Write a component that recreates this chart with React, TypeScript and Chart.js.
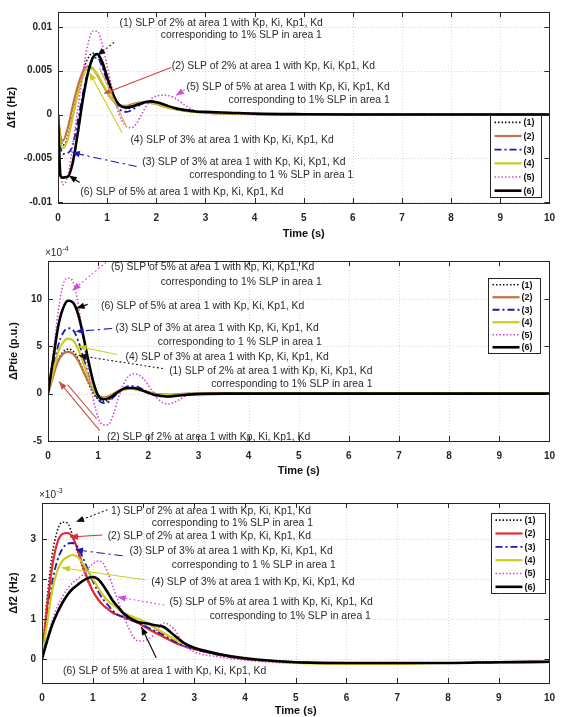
import { useEffect, useRef } from "react";
import { Chart, registerables } from "chart.js";

Chart.register(...registerables);

// Simulation time base (s)
const TIME = [0, 0.05, 0.1, 0.2, 0.3, 0.4, 0.5, 0.6, 0.7, 0.8, 0.9, 1.0, 1.1, 1.2, 1.3, 1.4, 1.5, 1.6, 1.7, 1.8, 1.9, 2.0, 2.1, 2.2, 2.4, 2.6, 2.8, 3.0, 3.5, 4, 5, 6, 7, 8, 9, 10];

const SERIES_LABELS = ["(1)", "(2)", "(3)", "(4)", "(5)", "(6)"];

// Δf1 responses, in units of 1e-3 Hz
const DF1_1 = [0, -2.5, -3.5, -2.5, 0.0, 2.5, 4.8, 6.3, 7.0, 6.8, 5.6, 4.0, 2.6, 1.5, 0.9, 0.7, 0.8, 1.0, 1.2, 1.35, 1.4, 1.3, 1.15, 0.95, 0.65, 0.45, 0.3, 0.25, 0.15, 0.05, 0.01, 0, 0, 0, 0, 0];
const DF1_2 = [0, -2.5, -3.0, -1.5, 1.0, 3.2, 4.8, 5.5, 5.3, 4.5, 3.5, 2.5, 1.7, 1.2, 1.0, 1.0, 1.15, 1.3, 1.4, 1.4, 1.3, 1.2, 1.0, 0.85, 0.6, 0.4, 0.3, 0.2, 0.1, 0.05, 0.01, 0, 0, 0, 0, 0];
const DF1_3 = [0, -3.5, -4.5, -4.4, -3.5, -0.8, 2.2, 4.7, 6.2, 6.5, 5.4, 3.8, 2.2, 1.0, 0.4, 0.3, 0.5, 0.9, 1.2, 1.4, 1.5, 1.4, 1.2, 1.0, 0.6, 0.4, 0.3, 0.2, 0.1, 0.05, 0.01, 0, 0, 0, 0, 0];
const DF1_4 = [0, -3.2, -3.8, -2.8, -0.3, 2.2, 4.2, 5.2, 5.2, 4.6, 3.6, 2.6, 1.8, 1.2, 0.9, 0.9, 1.0, 1.2, 1.35, 1.4, 1.35, 1.25, 1.1, 0.9, 0.6, 0.4, 0.3, 0.2, 0.1, 0.05, 0.01, 0, 0, 0, 0, 0];
const DF1_5 = [0, -6.0, -8.0, -7.0, -3.5, 0.5, 4.5, 7.8, 9.5, 9.5, 8.0, 5.5, 3.0, 0.8, -0.7, -1.4, -1.5, -1.0, 0.0, 1.0, 1.8, 2.1, 2.2, 2.2, 1.8, 1.0, 0.4, 0.2, 0.1, 0.05, 0.01, 0, 0, 0, 0, 0];
const DF1_6 = [0, -7.0, -7.2, -7.1, -5.5, -2.2, 1.5, 4.5, 6.4, 6.9, 6.0, 4.3, 2.6, 1.4, 0.9, 0.8, 0.9, 1.1, 1.3, 1.45, 1.5, 1.4, 1.25, 1.05, 0.7, 0.5, 0.35, 0.3, 0.2, 0.1, 0.03, 0, 0, 0, 0, 0];

// ΔPtie responses, in units of 1e-4 p.u.
const PTIE_1 = [0, 0.9, 1.8, 3.5, 4.4, 4.7, 4.5, 3.7, 2.5, 1.2, 0.1, -0.6, -0.8, -0.7, -0.3, 0.1, 0.4, 0.6, 0.6, 0.5, 0.3, 0.1, -0.05, -0.15, -0.2, -0.1, 0, 0, 0, 0, 0, 0, 0, 0, 0, 0];
const PTIE_2 = [0, 0.9, 1.8, 3.4, 4.2, 4.4, 4.2, 3.5, 2.4, 1.3, 0.4, -0.2, -0.4, -0.3, 0, 0.25, 0.45, 0.5, 0.5, 0.4, 0.3, 0.15, 0.05, -0.05, -0.1, -0.05, 0, 0, 0, 0, 0, 0, 0, 0, 0, 0];
const PTIE_3 = [0, 1.3, 2.5, 5.0, 6.4, 6.9, 6.7, 5.6, 3.9, 2.0, 0.4, -0.6, -1.0, -0.9, -0.4, 0.1, 0.5, 0.8, 0.8, 0.7, 0.4, 0.1, -0.1, -0.3, -0.3, -0.2, -0.1, 0, 0, 0, 0, 0, 0, 0, 0, 0];
const PTIE_4 = [0, 1.1, 2.2, 4.3, 5.4, 5.8, 5.6, 4.7, 3.3, 1.8, 0.5, -0.3, -0.5, -0.4, -0.1, 0.2, 0.4, 0.5, 0.5, 0.4, 0.3, 0.1, 0, -0.1, -0.15, -0.1, -0.05, 0, 0, 0, 0, 0, 0, 0, 0, 0];
const PTIE_5 = [0, 2.0, 4.0, 8.5, 11.5, 12.2, 11.8, 9.5, 6.0, 2.5, -0.5, -2.5, -3.3, -3.3, -2.2, -0.5, 0.9, 1.8, 2.1, 2.0, 1.6, 0.9, 0.1, -0.6, -1.1, -0.7, -0.1, 0.1, 0, 0, 0, 0, 0, 0, 0, 0];
const PTIE_6 = [0, 1.8, 3.5, 7.0, 9.0, 9.8, 9.6, 8.4, 6.2, 3.6, 1.3, -0.2, -0.6, -0.5, -0.2, 0.2, 0.5, 0.6, 0.6, 0.5, 0.3, 0.1, -0.1, -0.2, -0.3, -0.2, -0.1, -0.05, 0, 0, 0, 0, 0, 0, 0, 0];

// Δf2 responses, in units of 1e-3 Hz
const DF2_1 = [0, 0.8, 1.5, 2.6, 3.2, 3.42, 3.4, 3.1, 2.7, 2.3, 1.95, 1.7, 1.5, 1.35, 1.25, 1.15, 1.1, 1.05, 1.0, 0.95, 0.9, 0.82, 0.75, 0.68, 0.55, 0.42, 0.32, 0.25, 0.1, 0.0, -0.08, -0.1, -0.1, -0.1, -0.08, -0.07];
const DF2_2 = [0, 0.7, 1.3, 2.3, 2.9, 3.12, 3.15, 3.05, 2.75, 2.35, 2.0, 1.7, 1.5, 1.35, 1.25, 1.15, 1.1, 1.05, 1.0, 0.95, 0.9, 0.82, 0.75, 0.68, 0.55, 0.42, 0.32, 0.25, 0.1, 0.0, -0.08, -0.1, -0.1, -0.1, -0.08, -0.07];
const DF2_3 = [0, 0.5, 1.0, 1.9, 2.45, 2.75, 2.88, 2.9, 2.8, 2.55, 2.25, 1.95, 1.7, 1.5, 1.35, 1.2, 1.1, 1.05, 1.0, 0.95, 0.9, 0.85, 0.78, 0.72, 0.6, 0.45, 0.33, 0.25, 0.1, 0.0, -0.08, -0.1, -0.1, -0.1, -0.08, -0.07];
const DF2_4 = [0, 0.45, 0.9, 1.7, 2.2, 2.45, 2.55, 2.6, 2.55, 2.4, 2.2, 2.0, 1.8, 1.6, 1.45, 1.35, 1.25, 1.15, 1.1, 1.05, 1.0, 0.95, 0.88, 0.8, 0.65, 0.5, 0.38, 0.28, 0.12, 0.02, -0.1, -0.12, -0.12, -0.1, -0.1, -0.08];
const DF2_5 = [0, 0.25, 0.5, 0.95, 1.3, 1.55, 1.75, 1.9, 2.0, 2.1, 2.25, 2.38, 2.45, 2.4, 2.15, 1.8, 1.45, 1.1, 0.8, 0.55, 0.45, 0.45, 0.5, 0.6, 0.9, 0.75, 0.35, 0.18, 0.05, -0.03, -0.1, -0.1, -0.1, -0.1, -0.08, -0.07];
const DF2_6 = [0, 0.23, 0.45, 0.85, 1.15, 1.4, 1.6, 1.75, 1.85, 1.95, 2.02, 2.05, 2.0, 1.85, 1.65, 1.45, 1.3, 1.15, 1.05, 0.98, 0.92, 0.9, 0.88, 0.85, 0.8, 0.6, 0.4, 0.28, 0.12, 0.02, -0.08, -0.1, -0.1, -0.1, -0.08, -0.07];

// Axis ticks
const X_TICKS = [0, 1, 2, 3, 4, 5, 6, 7, 8, 9, 10];
const DF1_TICKS = [-10, -5, 0, 5, 10];
const DF1_TICK_LABELS = ["-0.01", "-0.005", "0", "0.005", "0.01"];
const PTIE_TICKS = [-5, 0, 5, 10];
const PTIE_TICK_LABELS = ["-5", "0", "5", "10"];
const DF2_TICKS = [0, 1, 2, 3];
const DF2_TICK_LABELS = ["0", "1", "2", "3"];

// Callout texts (x = right edge in s, y = line centre in axis units)
const DF1_NOTES = [
  { text: "(1) SLP of 2% at area 1 with Kp, Ki, Kp1, Kd", x: 5.39, y: 10.4 },
  { text: "corresponding to 1% SLP in area 1", x: 5.37, y: 9.03 },
  { text: "(2) SLP of 2% at area 1 with Kp, Ki, Kp1, Kd", x: 6.45, y: 5.49 },
  { text: "(5) SLP of 5% at area 1 with Kp, Ki, Kp1, Kd", x: 6.75, y: 3.09 },
  { text: "corresponding to 1% SLP in area 1", x: 6.75, y: 1.6 },
  { text: "(4) SLP of 3% at area 1 with Kp, Ki, Kp1, Kd", x: 5.61, y: -2.97 },
  { text: "(3) SLP of 3% at area 1 with Kp, Ki, Kp1, Kd", x: 5.85, y: -5.49 },
  { text: "corresponding to 1 % SLP in area 1", x: 6.01, y: -6.97 },
  { text: "(6) SLP of 5% at area 1 with Kp, Ki, Kp1, Kd", x: 4.59, y: -8.91 },
];
const PTIE_NOTES = [
  { text: "(5) SLP of 5% at area 1 with Kp, Ki, Kp1, Kd", x: 5.31, y: 13.4 },
  { text: "corresponding to 1% SLP in area 1", x: 5.46, y: 11.75 },
  { text: "(6) SLP of 5% at area 1 with Kp, Ki, Kp1, Kd", x: 5.11, y: 9.2 },
  { text: "(3) SLP of 3% at area 1 with Kp, Ki, Kp1, Kd", x: 5.4, y: 6.95 },
  { text: "corresponding to 1 % SLP in area 1", x: 5.46, y: 5.4 },
  { text: "(4) SLP of 3% at area 1 with Kp, Ki, Kp1, Kd", x: 5.6, y: 3.9 },
  { text: "(1) SLP of 2% at area 1 with Kp, Ki, Kp1, Kd", x: 6.47, y: 2.4 },
  { text: "corresponding to 1% SLP in area 1", x: 6.47, y: 0.95 },
  { text: "(2) SLP of 2% at area 1 with Kp, Ki, Kp1, Kd", x: 5.23, y: -4.55 },
];
const DF2_NOTES = [
  { text: "1) SLP of 2% at area 1 with Kp, Ki, Kp1, Kd", x: 5.3, y: 3.7 },
  { text: "corresponding to 1% SLP in area 1", x: 5.34, y: 3.4 },
  { text: "(2) SLP of 2% at area 1 with Kp, Ki, Kp1, Kd", x: 5.3, y: 3.08 },
  { text: "(3) SLP of 3% at area 1 with Kp, Ki, Kp1, Kd", x: 5.73, y: 2.7 },
  { text: "corresponding to 1 % SLP in area 1", x: 5.79, y: 2.35 },
  { text: "(4) SLP of 3% at area 1 with Kp, Ki, Kp1, Kd", x: 6.16, y: 1.93 },
  { text: "(5) SLP of 5% at area 1 with Kp, Ki, Kp1, Kd", x: 6.52, y: 1.43 },
  { text: "corresponding to 1% SLP in area 1", x: 6.48, y: 1.08 },
  { text: "(6) SLP of 5% at area 1 with Kp, Ki, Kp1, Kd", x: 4.42, y: -0.3 },
];

// Pointer arrows from the callouts to the curves
const DF1_POINTERS = [
  { series: 0, from: [1.14, 8.23], to: [0.8, 6.74] },
  { series: 1, from: [2.3, 5.37], to: [0.94, 2.4], color: "#d0453a" },
  { series: 4, from: [2.65, 3.09], to: [2.4, 2.17] },
  { series: 3, from: [1.3, -2.06], to: [0.64, 4.8] },
  { series: 3, from: [1.4, -1.49], to: [0.84, 5.37], color: "#d8a860", head: false },
  { series: 2, from: [1.6, -5.94], to: [0.28, -4.34] },
  { series: 5, from: [0.44, -7.77], to: [0.22, -6.97] },
];
const PTIE_POINTERS = [
  { series: 4, from: [1.16, 13.86], to: [0.49, 10.9] },
  { series: 5, from: [0.79, 9.42], to: [0.57, 9.0] },
  { series: 2, from: [1.28, 6.88], to: [0.55, 6.56] },
  { series: 3, from: [1.38, 4.13], to: [0.61, 4.97] },
  { series: 0, from: [2.29, 2.65], to: [0.61, 4.02] },
  { series: 1, from: [1.03, -3.9], to: [0.22, 1.27], color: "#c8504a" },
  { series: 1, from: [0.97, -2.65], to: [0.39, 0.95], color: "#c8504a", head: false },
];
const DF2_POINTERS = [
  { series: 0, from: [1.29, 3.73], to: [0.67, 3.43] },
  { series: 1, from: [1.19, 3.1], to: [0.55, 3.05] },
  { series: 2, from: [1.59, 2.58], to: [0.65, 2.73] },
  { series: 3, from: [2.02, 1.98], to: [0.39, 2.28] },
  { series: 4, from: [2.41, 1.35], to: [1.49, 1.55] },
  { series: 5, from: [2.25, 0.03], to: [1.96, 0.8] },
];

const FONT = "'Liberation Sans', Arial, Helvetica, sans-serif";
const INK = "#262626";

type Style = { color: string; width: number; dash: number[] };

const baseStyles = (second: string): Style[] => [
  { color: "#111111", width: 1.6, dash: [1.5, 2] },
  { color: second, width: 2.2, dash: [] },
  { color: "#1a1ab0", width: 1.8, dash: [7, 3, 2, 3] },
  { color: "#cccc1e", width: 2.2, dash: [] },
  { color: "#d24ad2", width: 1.6, dash: [1.5, 2] },
  { color: "#000000", width: 2.6, dash: [] },
];

// Canvases overlap slightly so each panel's x-axis title has room.
const PANELS = [
  {
    top: 0, height: 245, yWidth: 58, xHeight: 42, padTop: 12, padRight: 7, titleGap: 31,
    yMin: -10.1, yMax: 11.7, yTicks: DF1_TICKS, yTickLabels: DF1_TICK_LABELS,
    series: [DF1_1, DF1_2, DF1_3, DF1_4, DF1_5, DF1_6], styles: baseStyles("#c8704f"),
    yTitle: "Δf1 (Hz)", yTitleX: 12, exponent: "",
    notes: DF1_NOTES, pointers: DF1_POINTERS,
    legend: { right: 8, top: 103, w: 51, h: 82 },
  },
  {
    top: 245, height: 242, yWidth: 48, xHeight: 46, padTop: 16, padRight: 9, titleGap: 30,
    yMin: -5, yMax: 14, yTicks: PTIE_TICKS, yTickLabels: PTIE_TICK_LABELS,
    series: [PTIE_1, PTIE_2, PTIE_3, PTIE_4, PTIE_5, PTIE_6], styles: baseStyles("#c4703c"),
    yTitle: "ΔPtie (p.u.)", yTitleX: 14, exponent: "-4",
    notes: PTIE_NOTES, pointers: PTIE_POINTERS,
    legend: { right: 9, top: 17, w: 52, h: 75 },
  },
  {
    top: 475, height: 242, yWidth: 42, xHeight: 34, padTop: 28, padRight: 11, titleGap: 28,
    yMin: -0.6, yMax: 3.9, yTicks: DF2_TICKS, yTickLabels: DF2_TICK_LABELS,
    series: [DF2_1, DF2_2, DF2_3, DF2_4, DF2_5, DF2_6], styles: baseStyles("#e42a30"),
    yTitle: "Δf2 (Hz)", yTitleX: 14, exponent: "-3",
    notes: DF2_NOTES, pointers: DF2_POINTERS,
    legend: { right: 4, top: 10, w: 54, h: 80 },
  },
];

function arrowHead(ctx: CanvasRenderingContext2D, x0: number, y0: number, x1: number, y1: number, color: string) {
  const a = Math.atan2(y1 - y0, x1 - x0);
  const L = 8, W = 3.2;
  const bx = x1 - L * Math.cos(a), by = y1 - L * Math.sin(a);
  ctx.beginPath();
  ctx.moveTo(x1, y1);
  ctx.lineTo(bx + W * Math.sin(a), by - W * Math.cos(a));
  ctx.lineTo(bx - W * Math.sin(a), by + W * Math.cos(a));
  ctx.closePath();
  ctx.fillStyle = color;
  ctx.fill();
}

const decor = {
  id: "decor",
  beforeDatasetsDraw(chart: any, _a: any, o: any) {
    const { ctx, chartArea: A, scales } = chart;
    ctx.save();
    ctx.strokeStyle = "rgba(0,0,0,0.16)";
    ctx.lineWidth = 1;
    ctx.setLineDash([1, 2]);
    for (const t of X_TICKS) {
      const px = Math.round(scales.x.getPixelForValue(t)) + 0.5;
      ctx.beginPath(); ctx.moveTo(px, A.top); ctx.lineTo(px, A.bottom); ctx.stroke();
    }
    for (const v of o.yTicks) {
      const py = Math.round(scales.y.getPixelForValue(v)) + 0.5;
      ctx.beginPath(); ctx.moveTo(A.left, py); ctx.lineTo(A.right, py); ctx.stroke();
    }
    ctx.restore();
  },
  afterDatasetsDraw(chart: any, _a: any, o: any) {
    const { ctx, chartArea: A, scales } = chart;
    const X = (v: number) => scales.x.getPixelForValue(v);
    const Y = (v: number) => scales.y.getPixelForValue(v);
    const styles: Style[] = o.styles;
    ctx.save();

    // frame and inward ticks
    ctx.strokeStyle = INK;
    ctx.lineWidth = 1;
    ctx.setLineDash([]);
    ctx.strokeRect(Math.round(A.left) + 0.5, Math.round(A.top) + 0.5, Math.round(A.right - A.left), Math.round(A.bottom - A.top));
    ctx.beginPath();
    for (const t of X_TICKS) {
      const px = Math.round(X(t)) + 0.5;
      ctx.moveTo(px, A.bottom); ctx.lineTo(px, A.bottom - 5);
      ctx.moveTo(px, A.top); ctx.lineTo(px, A.top + 5);
    }
    for (const v of o.yTicks) {
      const py = Math.round(Y(v)) + 0.5;
      ctx.moveTo(A.left, py); ctx.lineTo(A.left + 5, py);
      ctx.moveTo(A.right, py); ctx.lineTo(A.right - 5, py);
    }
    ctx.stroke();

    // pointer arrows
    for (const p of o.pointers) {
      const st = styles[p.series];
      const color = p.color || st.color;
      const x0 = X(p.from[0]), y0 = Y(p.from[1]), x1 = X(p.to[0]), y1 = Y(p.to[1]);
      ctx.strokeStyle = color;
      ctx.lineWidth = 1.1;
      ctx.setLineDash(st.dash.length ? st.dash.map((d: number) => d * 1.2) : []);
      ctx.beginPath(); ctx.moveTo(x0, y0); ctx.lineTo(x1, y1); ctx.stroke();
      ctx.setLineDash([]);
      if (p.head !== false) arrowHead(ctx, x0, y0, x1, y1, color);
    }

    // callout texts
    ctx.fillStyle = "#2a2a2a";
    ctx.font = `10.4px ${FONT}`;
    ctx.textAlign = "right";
    ctx.textBaseline = "middle";
    for (const n of o.notes) ctx.fillText(n.text, X(n.x), Y(n.y));

    // legend box
    const L = o.legend;
    const bx = Math.round(A.right - L.right - L.w) + 0.5;
    const by = Math.round(A.top + L.top) + 0.5;
    ctx.fillStyle = "#ffffff";
    ctx.fillRect(bx, by, L.w, L.h);
    ctx.strokeStyle = INK;
    ctx.lineWidth = 1;
    ctx.strokeRect(bx, by, L.w, L.h);
    const row = L.h / 6;
    ctx.font = `bold 9px ${FONT}`;
    ctx.textAlign = "left";
    ctx.textBaseline = "middle";
    o.labels.forEach((lab: string, i: number) => {
      const st = styles[i];
      const yy = by + row * (i + 0.5);
      ctx.strokeStyle = st.color;
      ctx.lineWidth = st.width;
      ctx.setLineDash(st.dash);
      ctx.beginPath(); ctx.moveTo(bx + 4, yy); ctx.lineTo(bx + 31, yy); ctx.stroke();
      ctx.setLineDash([]);
      ctx.fillStyle = "#111";
      ctx.fillText(lab, bx + 33, yy + 0.5);
    });

    // axis titles
    ctx.fillStyle = "#111";
    ctx.font = `bold 11px ${FONT}`;
    ctx.textAlign = "center";
    ctx.textBaseline = "middle";
    ctx.fillText("Time (s)", (A.left + A.right) / 2, A.bottom + o.titleGap);
    ctx.save();
    ctx.translate(o.yTitleX, (A.top + A.bottom) / 2);
    ctx.rotate(-Math.PI / 2);
    ctx.fillText(o.yTitle, 0, 0);
    ctx.restore();

    // scale exponent
    if (o.exponent) {
      ctx.fillStyle = INK;
      ctx.textAlign = "left";
      ctx.textBaseline = "alphabetic";
      ctx.font = `10px ${FONT}`;
      const ex = A.left - 3;
      const ey = A.top - 5;
      ctx.fillText("×10", ex, ey);
      const w = ctx.measureText("×10").width;
      ctx.font = `7px ${FONT}`;
      ctx.fillText(o.exponent, ex + w + 0.5, ey - 5);
    }
    ctx.restore();
  },
};

function buildConfig(p: any): any {
  const tickFont = { family: FONT, size: 10, weight: "bold" as const };
  return {
    type: "line",
    data: {
      datasets: p.series.map((vals: number[], i: number) => ({
        label: SERIES_LABELS[i],
        data: TIME.map((t, k) => ({ x: t, y: vals[k] })),
        borderColor: p.styles[i].color,
        borderWidth: p.styles[i].width,
        borderDash: p.styles[i].dash,
        pointRadius: 0,
        fill: false,
        cubicInterpolationMode: "monotone",
        order: 6 - i,
      })),
    },
    options: {
      responsive: false,
      animation: false,
      events: [],
      layout: { padding: { left: 0, top: p.padTop, right: p.padRight, bottom: 0 } },
      plugins: {
        legend: { display: false },
        tooltip: { enabled: false },
        decor: {
          yTicks: p.yTicks, styles: p.styles, notes: p.notes, pointers: p.pointers,
          legend: p.legend, labels: SERIES_LABELS, yTitle: p.yTitle, yTitleX: p.yTitleX,
          exponent: p.exponent, titleGap: p.titleGap,
        },
      },
      scales: {
        x: {
          type: "linear", min: 0, max: 10,
          afterBuildTicks: (s: any) => { s.ticks = X_TICKS.map((v) => ({ value: v })); },
          afterFit: (s: any) => { s.height = p.xHeight; },
          grid: { display: false, drawTicks: false },
          border: { display: false },
          ticks: { padding: 9, font: tickFont, color: INK, maxRotation: 0, autoSkip: false, callback: (v: number) => String(v) },
        },
        y: {
          type: "linear", min: p.yMin, max: p.yMax,
          afterBuildTicks: (s: any) => { s.ticks = p.yTicks.map((v: number) => ({ value: v })); },
          afterFit: (s: any) => { s.width = p.yWidth; },
          grid: { display: false, drawTicks: false },
          border: { display: false },
          ticks: {
            padding: 6, font: tickFont, color: INK, autoSkip: false,
            callback: (v: number) => p.yTickLabels[p.yTicks.indexOf(v)] ?? "",
          },
        },
      },
    },
    plugins: [decor],
  };
}

function Panel({ p }: { p: any }) {
  const ref = useRef<HTMLCanvasElement>(null);
  useEffect(() => {
    const chart = new Chart(ref.current as HTMLCanvasElement, buildConfig(p));
    return () => chart.destroy();
  }, [p]);
  return (
    <canvas
      ref={ref}
      width={564}
      height={p.height}
      style={{ position: "absolute", left: 0, top: p.top, width: 564, height: p.height, display: "block" }}
    />
  );
}

export default function App() {
  return (
    <div style={{ position: "absolute", left: 0, top: 0, width: 564, height: 717, background: "#ffffff" }}>
      {PANELS.map((p, i) => (
        <Panel key={i} p={p} />
      ))}
    </div>
  );
}
